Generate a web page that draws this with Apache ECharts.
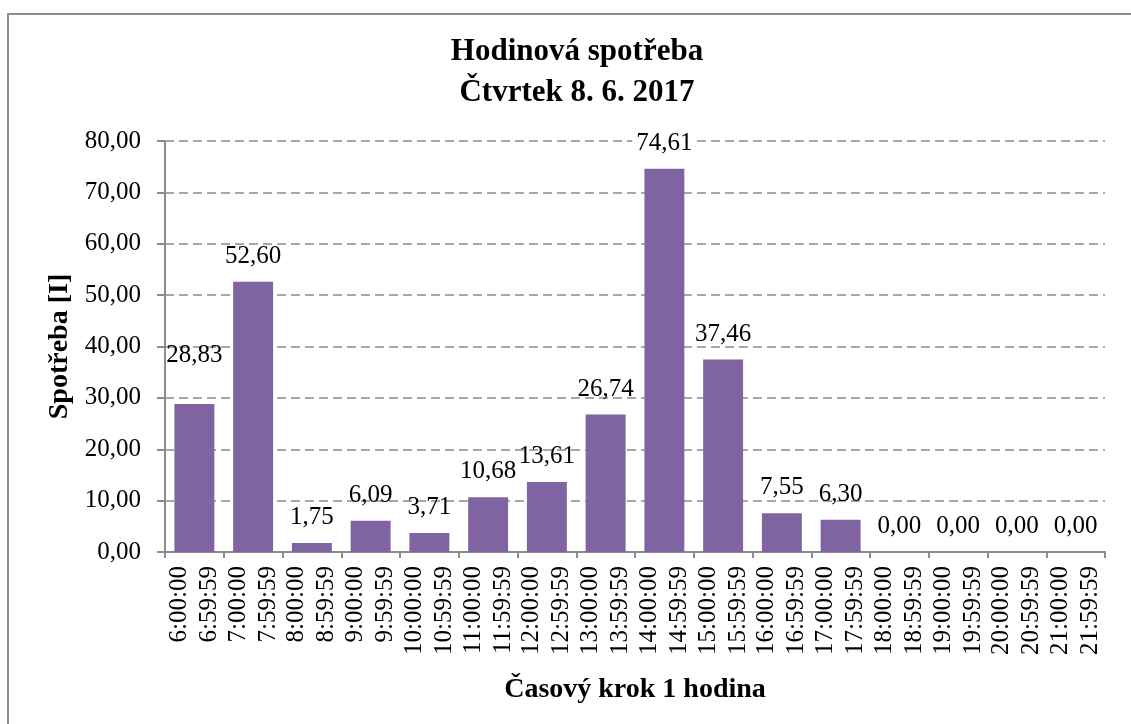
<!DOCTYPE html>
<html>
<head>
<meta charset="utf-8">
<script src="https://cdn.jsdelivr.net/npm/echarts@6/dist/echarts.min.js"></script>
<style>
html,body{margin:0;padding:0;background:#fff;}
#chart{width:1131px;height:724px;}
</style>
</head>
<body>
<div id="chart"></div>
<script>
var startTimes = ["6:00:00","7:00:00","8:00:00","9:00:00","10:00:00","11:00:00","12:00:00","13:00:00","14:00:00","15:00:00","16:00:00","17:00:00","18:00:00","19:00:00","20:00:00","21:00:00"];
var endTimes = ["6:59:59","7:59:59","8:59:59","9:59:59","10:59:59","11:59:59","12:59:59","13:59:59","14:59:59","15:59:59","16:59:59","17:59:59","18:59:59","19:59:59","20:59:59","21:59:59"];
var consumption = [28.83,52.60,1.75,6.09,3.71,10.68,13.61,26.74,74.61,37.46,7.55,6.30,0.00,0.00,0.00,0.00];
var titleLines = ["Hodinová spotřeba","Čtvrtek 8. 6. 2017"];
var xName = "Časový krok 1 hodina";
var yName = "Spotřeba [I]";

var FONT = "'Liberation Serif','Times New Roman',serif";
function fmt(v){ return Number(v).toFixed(2).replace('.', ','); }
var categories = startTimes.map(function(s,i){ return s + "\n" + endTimes[i]; });
var maxVal = Math.max.apply(null, consumption);
var seriesData = consumption.map(function(v,i){
  var item = {value: v};
  if (i === 0) item.label = {offset: [0, -23]};
  if (v === maxVal) item.label = {backgroundColor:'#fff', padding:[0,4]};
  return item;
});

var chart = echarts.init(document.getElementById('chart'), null, {renderer:'canvas'});
chart.setOption({
  backgroundColor: '#fff',
  animation: false,
  graphic: [
    {type:'rect', shape:{x:8, y:14, width:1300, height:900}, style:{fill:'none', stroke:'#8c8c8c', lineWidth:2}, z:-1},
    {type:'text', x:577, y:72.5, style:{text: titleLines.join("\n"), fill:'#000', font:"bold 31px " + FONT, lineHeight:41, textAlign:'center', textVerticalAlign:'middle'}}
  ],
  grid: {left:165, right:26, top:141, bottom:172},
  xAxis: {
    type:'category',
    data: categories,
    name: xName,
    nameLocation:'middle',
    nameGap: 124,
    nameTextStyle:{fontFamily:FONT, fontWeight:'bold', fontSize:28, color:'#000'},
    axisLine:{lineStyle:{color:'#8c8c8c', width:2}},
    axisTick:{show:true, length:6, inside:false, alignWithLabel:false, lineStyle:{color:'#8c8c8c', width:2}},
    axisLabel:{interval:0, rotate:90, fontFamily:FONT, fontSize:25, lineHeight:30, color:'#000', margin:14}
  },
  yAxis: {
    type:'value',
    min:0, max:80, interval:10,
    name: yName,
    nameLocation:'middle',
    nameRotate:90,
    nameGap:91,
    nameTextStyle:{fontFamily:FONT, fontWeight:'bold', fontSize:28, color:'#000'},
    axisLine:{show:true, lineStyle:{color:'#8c8c8c', width:2}},
    axisTick:{show:true, length:8, lineStyle:{color:'#8c8c8c', width:2}},
    axisLabel:{formatter:fmt, fontFamily:FONT, fontSize:25, color:'#000', margin:24},
    splitLine:{show:true, lineStyle:{color:'#8c8c8c', width:1.5, type:[9,5]}}
  },
  series: [{
    type:'bar',
    data: seriesData,
    barCategoryGap:'32%',
    itemStyle:{color:'#8064A2'},
    label:{show:true, position:'top', distance:13, formatter:function(p){return fmt(p.value);}, fontFamily:FONT, fontSize:25, color:'#000'}
  }]
});
</script>
</body>
</html>
